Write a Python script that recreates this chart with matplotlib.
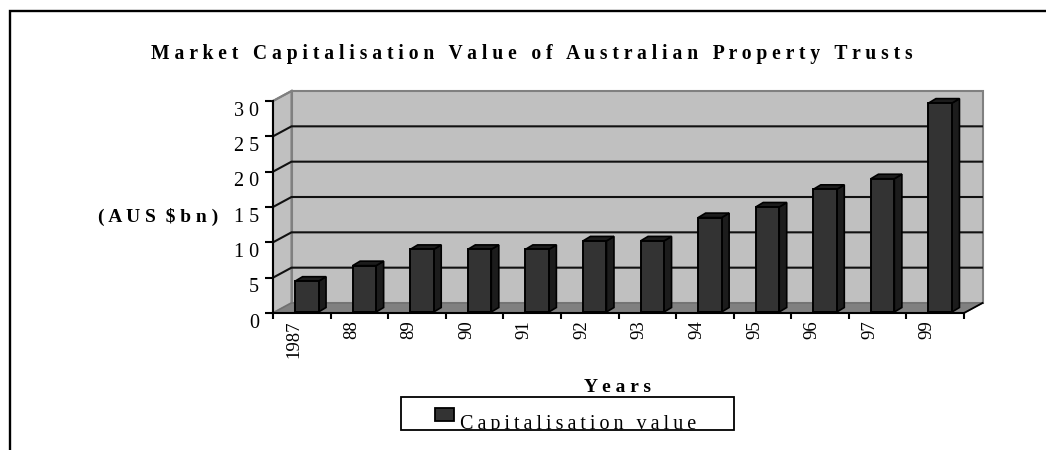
import matplotlib
matplotlib.use("Agg")
import matplotlib.pyplot as plt
from matplotlib.patches import Polygon, Rectangle
from matplotlib.lines import Line2D
from matplotlib.transforms import ScaledTranslation, Bbox

years = ["1987", "88", "89", "90", "91", "92", "93", "94", "95", "96", "97", "99"]
values = [4.5, 6.7, 9.0, 9.0, 9.0, 10.2, 10.2, 13.5, 15.0, 17.5, 19.0, 29.7]
y_ticks = [0, 5, 10, 15, 20, 25, 30]
y_labels = ["0", "5", "1 0", "1 5", "2 0", "2 5", "3 0"]
title = "M a r k e t   C a p i t a l i s a t i o n   V a l u e   o f   A u s t r a l i a n   P r o p e r t y   T r u s t s"
ylabel = "( A U S  $ b n )"
xlabel = "Y e a r s"
legend_label = "C\u2009a\u2009p\u2009i\u2009t\u2009a\u2009l\u2009i\u2009s\u2009a\u2009t\u2009i\u2009o\u2009n\u2009 \u2009v\u2009a\u2009l\u2009u\u2009e"

W, H = 1046, 450
plt.rcParams['font.family'] = ['Liberation Serif', 'DejaVu Serif']
fig = plt.figure(figsize=(W / 100, H / 100), dpi=100, facecolor='white')

def fx(p): return p / W
def fy(p): return 1 - p / H

fig.add_artist(Line2D([fx(9.5), fx(9.5), fx(1046)], [fy(450), fy(11), fy(11)],
                      color='black', lw=1.7, solid_joinstyle='miter'))

L, R, T, B = 273, 964, 101, 313
ax = fig.add_axes([fx(L), fy(B), (R - L) / W, (B - T) / H])
ax.set_xlim(0, len(years))
ax.set_ylim(0, 30)
ax.patch.set_visible(False)

sx = (R - L) / len(years)
sy = (B - T) / 30
dx, dy = 18.5 / sx, 10 / sy
bw = 23.5 / sx
bdx, bdy = 7.5 / sx, 4.5 / sy
off = 5 / sx
base = 1 / sy
n = len(years)
grey = '#c0c0c0'
edge = '#808080'

ax.add_patch(Polygon([(0, 0), (dx, dy), (dx, 30 + dy), (0, 30)], fc=grey, ec=edge, lw=1.5, clip_on=False, zorder=1))
ax.add_patch(Rectangle((dx, dy), n, 30, fc=grey, ec=edge, lw=1.5, clip_on=False, zorder=1))
ax.add_patch(Polygon([(0, 0), (n, 0), (n + dx, dy), (dx, dy)], fc='#808080', ec='#707070', lw=1, clip_on=False, zorder=1.5))

for t in y_ticks[1:-1]:
    ax.plot([0, dx, n + dx - 0.01], [t, t + dy, t + dy], color='#111111', lw=1.5, clip_on=False, zorder=2,
            solid_joinstyle='miter')
ax.plot([0, dx], [30, 30 + dy], color=edge, lw=1.5, clip_on=False, zorder=2)
ax.plot([n, n + dx], [0, dy], color='black', lw=1.3, clip_on=False, zorder=2)

centers = [i + 0.5 + off for i in range(n)]
ax.bar(centers, [v - base for v in values], width=bw, bottom=base, color='#333333', edgecolor='black',
       linewidth=1.4, zorder=5)
for c, v in zip(centers, values):
    x0, x1 = c - bw / 2, c + bw / 2
    ax.add_patch(Polygon([(x1, base), (x1 + bdx, base + bdy), (x1 + bdx, v + bdy), (x1, v)],
                         fc='#1c1c1c', ec='black', lw=1.2, zorder=4, clip_on=False))
    ax.add_patch(Polygon([(x0, v), (x0 + bdx, v + bdy), (x1 + bdx, v + bdy), (x1, v)],
                         fc='#1c1c1c', ec='black', lw=1.2, zorder=4, clip_on=False))

for s in ['top', 'right']:
    ax.spines[s].set_visible(False)
for s in ['left', 'bottom']:
    ax.spines[s].set_linewidth(1.5)
    ax.spines[s].set_zorder(6)

ax.set_yticks(y_ticks)
ax.set_yticklabels(y_labels, fontsize=14.5)
ax.tick_params(axis='y', length=6, width=1.5, pad=4)
ax.set_xticks(range(n + 1))
ax.set_xticklabels([""] * (n + 1))
ax.tick_params(axis='x', length=4.5, width=1.5)
ax.set_xticks([i + 0.5 for i in range(n)], minor=True)
ax.set_xticklabels(years, minor=True, rotation=90, fontsize=13.5, va='top', ha='center')
ax.tick_params(axis='x', which='minor', length=0, pad=5.5)

down = ScaledTranslation(0, -7.5 / 100, fig.dpi_scale_trans)
for lab in ax.get_yticklabels():
    lab.set_transform(lab.get_transform() + down)
left = ScaledTranslation(-8 / 100, 0, fig.dpi_scale_trans)
for lab in ax.get_xticklabels(minor=True):
    lab.set_transform(lab.get_transform() + left)

fig.text(fx(532), fy(54), title, fontsize=14.15, fontweight='bold', ha='center', va='center')
fig.text(fx(158.5), fy(217), ylabel, fontsize=14, fontweight='bold', ha='center', va='center')
fig.text(fx(618), fy(388), xlabel, fontsize=14, fontweight='bold', ha='center', va='center')

fig.add_artist(Rectangle((fx(401), fy(430)), 333 / W, 33 / H, transform=fig.transFigure, fc='white', ec='black', lw=1.3))
fig.add_artist(Rectangle((fx(435), fy(420.5)), 19 / W, 13 / H, transform=fig.transFigure, fc='#333333', ec='black', lw=1.3))
legend_text = fig.text(fx(460), fy(428.5), legend_label, fontsize=14.5, ha='left', va='baseline')
legend_text.set_clip_box(Bbox([[401, H - 430], [734, H - 397]]))
legend_text.set_clip_on(True)

fig.savefig('out.png', dpi=100)
